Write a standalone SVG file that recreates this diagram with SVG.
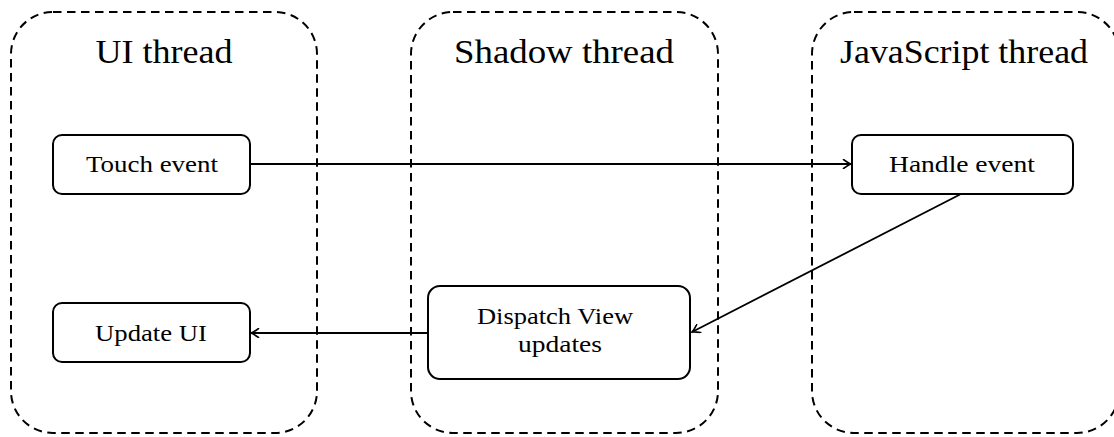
<svg xmlns="http://www.w3.org/2000/svg" width="1114" height="437" viewBox="0 0 1114 437">
  <defs>
    <style>
      .lane { fill: none; stroke: #000; stroke-width: 2; stroke-dasharray: 8.5 5.5; }
      .lane-title { font-family: "Liberation Serif", "DejaVu Serif", serif; font-size: 33px; fill: #000; text-anchor: middle; }
      .box { fill: #fff; stroke: #000; stroke-width: 2; }
      .label { font-family: "Liberation Serif", "DejaVu Serif", serif; font-size: 23px; fill: #000; text-anchor: middle; }
      .edge { fill: none; stroke: #000; stroke-width: 1.8; marker-end: url(#arrow); }
    </style>
    <marker id="arrow" viewBox="-9 -5 10 10" refX="0" refY="0" markerWidth="10" markerHeight="10" markerUnits="userSpaceOnUse" orient="auto">
      <path d="M-7.5,-4.5 Q-2.5,-0.8 0,0 Q-2.5,0.8 -7.5,4.5" fill="none" stroke="#000" stroke-width="1.6" stroke-linecap="round"/>
    </marker>
  </defs>

  <rect width="1114" height="437" fill="#fff"/>

  <!-- thread lanes -->
  <g id="lane-ui">
    <rect class="lane" x="11" y="12" width="306" height="421" rx="42" ry="42"/>
    <text class="lane-title" x="164" y="63" textLength="137" lengthAdjust="spacingAndGlyphs">UI thread</text>
  </g>
  <g id="lane-shadow">
    <rect class="lane" x="411" y="12" width="307" height="421" rx="42" ry="42"/>
    <text class="lane-title" x="564" y="63" textLength="220" lengthAdjust="spacingAndGlyphs">Shadow thread</text>
  </g>
  <g id="lane-js">
    <rect class="lane" x="812" y="12" width="307" height="421" rx="42" ry="42"/>
    <text class="lane-title" x="964" y="63" textLength="248" lengthAdjust="spacingAndGlyphs">JavaScript thread</text>
  </g>

  <!-- connectors -->
  <g id="connectors">
    <line class="edge" x1="250" y1="164" x2="851" y2="164"/>
    <line class="edge" x1="960" y1="194.5" x2="692" y2="332"/>
    <line class="edge" x1="428" y1="333" x2="251" y2="333"/>
  </g>

  <!-- nodes -->
  <g id="node-touch-event">
    <rect class="box" x="53" y="135" width="197" height="59" rx="9" ry="9"/>
    <text class="label" x="152" y="172" textLength="132" lengthAdjust="spacingAndGlyphs">Touch event</text>
  </g>
  <g id="node-handle-event">
    <rect class="box" x="852" y="135" width="221" height="59" rx="9" ry="9"/>
    <text class="label" x="962" y="172" textLength="146" lengthAdjust="spacingAndGlyphs">Handle event</text>
  </g>
  <g id="node-dispatch">
    <rect class="box" x="428" y="286" width="262" height="93" rx="12" ry="12"/>
    <text class="label" x="555" y="324" textLength="156" lengthAdjust="spacingAndGlyphs">Dispatch View</text>
    <text class="label" x="560" y="352" textLength="84" lengthAdjust="spacingAndGlyphs">updates</text>
  </g>
  <g id="node-update-ui">
    <rect class="box" x="53" y="303" width="197" height="59" rx="9" ry="9"/>
    <text class="label" x="151" y="341" textLength="112" lengthAdjust="spacingAndGlyphs">Update UI</text>
  </g>
</svg>
